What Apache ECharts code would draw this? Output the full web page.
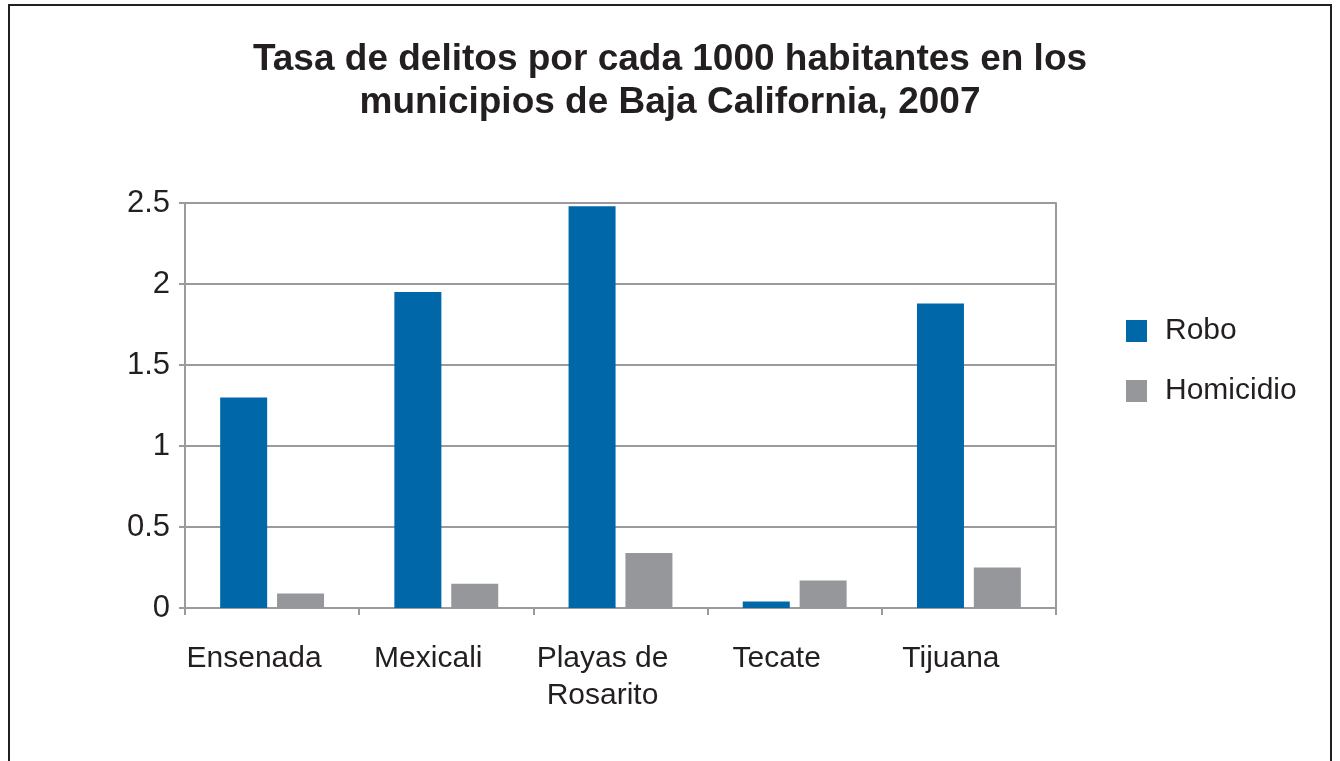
<!DOCTYPE html>
<html>
<head>
<meta charset="utf-8">
<script src="https://cdn.jsdelivr.net/npm/echarts@6/dist/echarts.min.js"></script>
<style>
  html, body { margin: 0; padding: 0; background: #fff; }
  #frame { position: absolute; left: 8px; top: 4px; width: 1324px; height: 800px;
           border: 2px solid #231f20; border-bottom: none; box-sizing: border-box; }
  #chart { position: absolute; left: 0; top: 0; width: 1340px; height: 761px; }
</style>
</head>
<body>
<div id="frame"></div>
<div id="chart"></div>
<script>
const categories = ['Ensenada', 'Mexicali', 'Playas de\nRosarito', 'Tecate', 'Tijuana'];
const robo = [1.3, 1.95, 2.48, 0.04, 1.88];
const homicidio = [0.09, 0.15, 0.34, 0.17, 0.25];
const seriesNames = ['Robo', 'Homicidio'];
const yTicks = { min: 0, max: 2.5, interval: 0.5 };
const titleText = 'Tasa de delitos por cada 1000 habitantes en los\nmunicipios de Baja California, 2007';

const FONT = '"Liberation Sans", Arial, Helvetica, sans-serif';
const TXT = '#231f20';
const GRIDC = '#9b9b9e';

const chart = echarts.init(document.getElementById('chart'), null, { renderer: 'canvas' });
chart.setOption({
  animation: false,
  backgroundColor: 'transparent',
  title: {
    text: titleText,
    left: 'center',
    top: 33,
    textStyle: { fontFamily: FONT, fontSize: 37, fontWeight: 'bold', color: TXT, lineHeight: 43 }
  },
  legend: {
    orient: 'vertical',
    left: 1121,
    top: 309,
    itemWidth: 21,
    itemHeight: 22,
    itemGap: 26,
    icon: 'rect',
    data: seriesNames,
    textStyle: { fontFamily: FONT, fontSize: 30, color: TXT, padding: [0, 0, 0, 13], lineHeight: 34 }
  },
  grid: { left: 185, right: 284, top: 203, bottom: 153, containLabel: false },
  xAxis: {
    type: 'category',
    data: categories,
    axisLine: { show: true, lineStyle: { color: GRIDC, width: 2 } },
    axisTick: { show: true, length: 7, lineStyle: { color: GRIDC, width: 2 } },
    axisLabel: { interval: 0, hideOverlap: false, fontFamily: FONT, fontSize: 30, color: TXT,
                 margin: 32, lineHeight: 37, padding: [0, 36, 0, 0] }
  },
  yAxis: [{
    type: 'value',
    min: yTicks.min, max: yTicks.max, interval: yTicks.interval,
    axisLine: { show: true, lineStyle: { color: GRIDC, width: 2 } },
    axisTick: { show: true, length: 6, lineStyle: { color: GRIDC, width: 2 } },
    axisLabel: { fontFamily: FONT, fontSize: 31, color: TXT, margin: 15 },
    splitLine: { show: true, lineStyle: { color: GRIDC, width: 2 } }
  }, {
    type: 'value', position: 'right',
    min: yTicks.min, max: yTicks.max, interval: yTicks.interval,
    axisLine: { show: true, lineStyle: { color: GRIDC, width: 2 } },
    axisTick: { show: false }, axisLabel: { show: false }, splitLine: { show: false }
  }],
  series: [
    { name: seriesNames[0], type: 'bar', data: robo, barWidth: 47, barGap: '21%',
      itemStyle: { color: '#0067a9' } },
    { name: seriesNames[1], type: 'bar', data: homicidio, barWidth: 47,
      itemStyle: { color: '#96979b' } }
  ]
});
</script>
</body>
</html>
